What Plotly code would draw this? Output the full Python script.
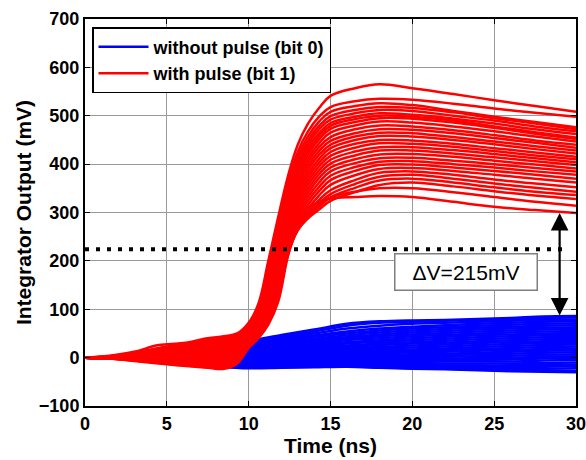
import plotly.graph_objects as go

# ---------------- data ----------------
# Sample times (ns) for the "with pulse" traces
T_RED = [0, 1.5, 3, 4.5, 6, 7.5, 8.5, 9.3, 10, 10.6, 11.2, 11.8, 12.4, 13, 13.6,
         14.3, 15, 16.5, 18, 20, 22.5, 25, 27.5, 30]

# Integrator output (mV), bit 1 (pulse present)
RED_TRACES = [
    [0, 4, 12, 26, 30, 40, 44, 50, 72, 112, 200, 290, 375, 440, 482, 516, 541, 557, 565, 557, 545, 532, 520, 508],
    [0, 3, 10, 20, 28, 38, 43, 48, 66, 105, 192, 280, 362, 425, 466, 498, 518, 530, 535, 533, 525, 515, 506, 498],
    [0, 2, 8, 18, 26, 36, 41, 46, 62, 100, 186, 273, 354, 415, 456, 488, 508, 520, 526, 522, 510, 498, 487, 476],
    [0, 3, 9, 19, 27, 35, 40, 45, 60, 96, 180, 267, 347, 407, 447, 479, 499, 512, 518, 516, 507, 495, 484, 472],
    [0, 1, 6, 15, 24, 33, 39, 44, 58, 92, 175, 261, 340, 400, 440, 472, 492, 505, 512, 510, 500, 490, 478, 468],
    [0, 2, 7, 14, 22, 31, 37, 42, 56, 88, 170, 255, 333, 392, 433, 464, 485, 498, 505, 502, 494, 484, 472, 462],
    [0, 1, 5, 12, 20, 30, 36, 42, 55, 85, 164, 249, 327, 386, 426, 458, 479, 493, 500, 498, 490, 478, 466, 455],
    [0, 2, 6, 13, 19, 28, 34, 40, 53, 82, 158, 243, 320, 379, 419, 451, 473, 487, 495, 494, 486, 475, 463, 452],
    [0, 1, 4, 10, 17, 26, 33, 40, 52, 80, 153, 237, 313, 371, 411, 443, 465, 480, 488, 486, 478, 468, 457, 447],
    [0, 0, 3, 8, 15, 24, 31, 38, 50, 77, 148, 231, 306, 364, 403, 435, 456, 472, 480, 478, 470, 460, 449, 440],
    [0, 1, 4, 9, 14, 22, 29, 36, 48, 74, 143, 225, 299, 357, 395, 427, 448, 464, 472, 471, 464, 454, 444, 434],
    [0, 0, 2, 7, 12, 20, 27, 35, 47, 72, 138, 219, 292, 349, 387, 419, 440, 457, 465, 464, 456, 447, 437, 428],
    [0, 0, 1, 5, 10, 18, 25, 33, 46, 70, 133, 213, 285, 342, 379, 411, 433, 450, 458, 457, 450, 441, 431, 422],
    [0, -1, 0, 3, 8, 16, 23, 31, 45, 68, 128, 207, 278, 334, 371, 403, 425, 442, 450, 449, 442, 433, 424, 415],
    [0, 0, 2, 4, 7, 13, 20, 29, 44, 66, 124, 201, 272, 327, 363, 395, 417, 434, 443, 442, 436, 427, 418, 410],
    [0, -1, -1, 1, 4, 10, 17, 27, 42, 64, 119, 195, 265, 319, 355, 387, 409, 426, 435, 435, 429, 421, 412, 404],
    [0, 0, -1, -1, 1, 7, 14, 25, 40, 62, 114, 189, 258, 312, 347, 379, 401, 418, 428, 428, 422, 414, 406, 398],
    [0, -1, -2, -2, -1, 4, 10, 22, 38, 60, 110, 183, 252, 304, 339, 371, 393, 410, 420, 421, 415, 407, 399, 391],
    [0, -1, -2, -3, -3, 0, 6, 19, 36, 58, 106, 178, 246, 297, 331, 362, 385, 402, 412, 413, 407, 400, 392, 385],
    [0, -1, -3, -4, -5, -3, 3, 16, 35, 56, 102, 172, 240, 290, 323, 353, 376, 394, 405, 406, 400, 393, 385, 378],
    [0, -1, -3, -5, -7, -6, -1, 13, 33, 54, 98, 166, 234, 283, 315, 344, 367, 386, 398, 399, 393, 386, 378, 370],
    [0, -1, -4, -6, -8, -9, -5, 10, 32, 52, 94, 160, 228, 277, 307, 335, 357, 377, 390, 392, 386, 378, 370, 362],
    [0, -1, -4, -7, -10, -12, -9, 6, 30, 50, 90, 154, 224, 272, 300, 326, 346, 367, 382, 385, 378, 368, 360, 352],
    [0, -1, -5, -8, -11, -14, -12, 2, 28, 48, 86, 148, 221, 268, 295, 319, 338, 359, 374, 378, 370, 360, 351, 343],
    [0, -2, -5, -9, -12, -16, -15, -2, 26, 46, 82, 141, 218, 265, 290, 312, 331, 351, 366, 370, 362, 352, 343, 336],
    [0, -2, -6, -10, -14, -18, -18, -5, 24, 44, 78, 134, 215, 263, 287, 306, 324, 342, 357, 362, 354, 344, 335, 328],
    [0, -2, -6, -11, -16, -20, -21, -8, 22, 42, 73, 124, 212, 266, 295, 316, 331, 343, 350, 350, 342, 332, 322, 314],
    [0, -2, -7, -12, -17, -21, -23, -12, 20, 40, 68, 115, 210, 275, 308, 322, 329, 332, 334, 332, 322, 312, 305, 299],
]

# Sample times (ns) for the "without pulse" traces
T_BLUE = [0, 2, 4, 6, 8, 10, 12, 14, 16, 18, 20, 22, 24, 26, 28, 30]

# Integrator output (mV), bit 0 (no pulse)
BLUE_TRACES = [
    [0, 3, 12, 22, 28, 35, 47, 58, 70, 75, 77, 78, 80, 82, 85, 86],
    [0, 3, 11, 20, 27, 33, 44, 54, 66, 72, 74, 76, 78, 80, 82, 83],
    [0, 2, 10, 18, 25, 31, 41, 50, 60, 66, 70, 72, 74, 76, 78, 79],
    [0, 2, 9, 17, 24, 30, 38, 46, 54, 60, 64, 67, 70, 72, 74, 75],
    [0, 2, 8, 16, 22, 28, 35, 43, 50, 56, 60, 63, 66, 68, 70, 71],
    [0, 2, 7, 14, 20, 25, 32, 39, 46, 52, 56, 59, 62, 64, 66, 67],
    [0, 1, 6, 12, 18, 23, 29, 36, 42, 48, 52, 55, 58, 60, 62, 63],
    [0, 1, 5, 11, 16, 21, 26, 33, 39, 44, 48, 51, 54, 56, 58, 59],
    [0, 1, 5, 10, 14, 19, 24, 30, 36, 40, 44, 47, 50, 52, 54, 55],
    [0, 1, 4, 8, 12, 17, 21, 27, 32, 36, 40, 43, 46, 48, 50, 51],
    [0, 1, 3, 7, 11, 15, 19, 24, 29, 33, 36, 39, 42, 44, 46, 47],
    [0, 0, 3, 6, 9, 13, 16, 21, 25, 29, 32, 35, 38, 40, 42, 43],
    [0, 0, 2, 4, 7, 11, 14, 18, 22, 26, 29, 31, 34, 36, 38, 39],
    [0, 0, 1, 3, 6, 9, 12, 15, 19, 22, 25, 27, 30, 32, 34, 35],
    [0, 0, 1, 2, 4, 7, 9, 12, 16, 19, 21, 23, 26, 28, 30, 31],
    [0, 0, 0, 1, 3, 5, 7, 9, 13, 15, 17, 19, 22, 24, 26, 27],
    [0, 0, 0, 0, 1, 3, 4, 6, 10, 12, 14, 16, 18, 20, 22, 23],
    [0, 0, -1, -1, 0, 1, 2, 4, 7, 9, 11, 12, 14, 16, 18, 19],
    [0, 0, -1, -2, -2, -1, 0, 1, 4, 6, 7, 8, 10, 12, 14, 15],
    [0, 0, -1, -3, -4, -3, -2, -1, 1, 3, 4, 5, 7, 8, 10, 11],
    [0, -1, -2, -4, -6, -5, -4, -3, -2, 0, 1, 2, 3, 4, 6, 7],
    [0, -1, -2, -5, -8, -8, -7, -6, -5, -3, -2, -2, -1, 0, 2, 3],
    [0, -1, -3, -6, -10, -10, -9, -8, -7, -6, -5, -5, -5, -4, -2, -1],
    [0, -1, -3, -7, -12, -13, -11, -10, -9, -9, -8, -8, -8, -8, -6, -5],
    [0, -1, -4, -8, -13, -15, -13, -12, -11, -11, -11, -12, -12, -12, -11, -10],
    [0, -1, -4, -9, -15, -17, -15, -14, -13, -14, -14, -15, -16, -16, -15, -14],
    [0, -2, -5, -10, -16, -19, -17, -16, -15, -16, -17, -18, -19, -20, -19, -18],
    [0, -2, -5, -11, -17, -20, -19, -18, -17, -18, -20, -21, -22, -23, -23, -22],
    [0, -2, -6, -12, -18, -21, -20, -19, -18, -20, -22, -23, -24, -26, -27, -27],
    [0, -2, -6, -12, -18, -22, -21, -20, -19, -21, -23, -24, -26, -28, -29, -30],
]

X_TICKS = [0, 5, 10, 15, 20, 25, 30]
Y_TICKS = [-100, 0, 100, 200, 300, 400, 500, 600, 700]

THRESHOLD_MV = 224          # decision level (dotted line)
THRESHOLD_END_NS = 29.5
ARROW_T_NS = 29             # where the eye opening is measured
ARROW_TOP_MV = 299          # lowest bit-1 level
ARROW_BOTTOM_MV = 84        # highest bit-0 level
DELTA_V = ARROW_TOP_MV - ARROW_BOTTOM_MV

FONT = "Liberation Sans, Arial, sans-serif"

# ---------------- figure ----------------
fig = go.Figure()

for i, ys in enumerate(BLUE_TRACES):
    fig.add_trace(go.Scatter(
        x=T_BLUE, y=ys, mode="lines",
        line=dict(color="#0000ff", width=2.5, shape="spline", smoothing=0.9),
        name="without pulse (bit 0)", legendgroup="b0",
        showlegend=(i == 0), hoverinfo="skip",
    ))

for i, ys in enumerate(RED_TRACES):
    fig.add_trace(go.Scatter(
        x=T_RED, y=ys, mode="lines",
        line=dict(color="#ff0000", width=2.5, shape="spline", smoothing=1.1),
        name="with pulse (bit 1)", legendgroup="b1",
        showlegend=(i == 0), hoverinfo="skip",
    ))

# decision threshold
fig.add_shape(type="line", xref="x", yref="y",
              x0=0, x1=THRESHOLD_END_NS, y0=THRESHOLD_MV, y1=THRESHOLD_MV,
              line=dict(color="black", width=4, dash="4px,7px"))

# double-headed arrow marking the eye opening
fig.add_annotation(x=ARROW_T_NS, y=ARROW_TOP_MV, ax=ARROW_T_NS, ay=ARROW_BOTTOM_MV,
                   xref="x", yref="y", axref="x", ayref="y",
                   text="", showarrow=True, arrowside="end+start",
                   arrowhead=2, arrowsize=1.6, arrowwidth=2.2, arrowcolor="black")

fig.add_annotation(x=23.3, y=176, xref="x", yref="y",
                   text=f"\u0394V={DELTA_V}mV", showarrow=False,
                   font=dict(family=FONT, size=21, color="black"),
                   bgcolor="white", bordercolor="#7f7f7f", borderwidth=1.5,
                   width=137, height=31, borderpad=2)

axis_common = dict(
    showline=True, linecolor="black", linewidth=2, mirror="ticks",
    ticks="inside", ticklen=5, tickwidth=1, tickcolor="black",
    showgrid=True, gridcolor="#9a9a9a", gridwidth=1, zeroline=False,
    automargin=False, ticklabeloverflow="allow",
    tickfont=dict(family=FONT, size=18, color="black", weight="bold"),
)

fig.update_xaxes(range=[0, 30], tickvals=X_TICKS,
                 title=dict(text="<b>Time (ns)</b>", standoff=4,
                            font=dict(family=FONT, size=21, color="black")),
                 **axis_common)
fig.update_yaxes(range=[-100, 700], tickvals=Y_TICKS,
                 title=dict(text="<b>Integrator Output (mV)</b>", standoff=2,
                            font=dict(family=FONT, size=21, color="black")),
                 **axis_common)

fig.update_layout(
    width=586, height=460,
    margin=dict(l=85, r=10, t=19, b=54, autoexpand=False),
    plot_bgcolor="white", paper_bgcolor="white",
    legend=dict(x=0.0143, y=0.979, xanchor="left", yanchor="top",
                bgcolor="white", bordercolor="black", borderwidth=1.5,
                font=dict(family=FONT, size=18, color="black", weight="bold"),
                tracegroupgap=0, itemwidth=50),
    showlegend=True,
)

fig.write_html("out.html")
